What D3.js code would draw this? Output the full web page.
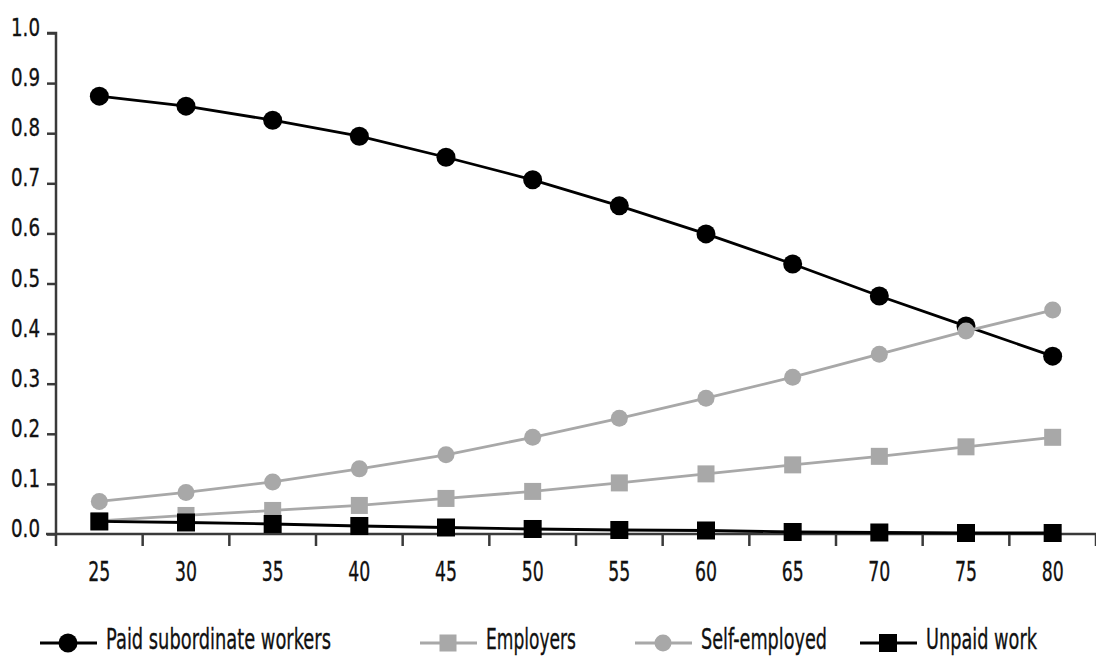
<!DOCTYPE html>
<html><head><meta charset="utf-8">
<script src="https://cdn.jsdelivr.net/npm/d3@7"></script>
<style>body{margin:0;background:#fff}svg{display:block}text{font-family:"DejaVu Sans",sans-serif;fill:#111;stroke:#111;stroke-width:0.35px}</style>
</head><body><svg id="c" width="1096" height="661"></svg>
<script>
const ages = [25,30,35,40,45,50,55,60,65,70,75,80];
const paid = [0.874,0.854,0.826,0.794,0.752,0.707,0.655,0.599,0.539,0.475,0.415,0.355];
const employers = [0.026,0.037,0.047,0.057,0.071,0.085,0.102,0.120,0.138,0.155,0.174,0.193];
const selfEmployed = [0.065,0.083,0.104,0.130,0.158,0.193,0.231,0.271,0.313,0.359,0.405,0.447];
const unpaid = [0.025,0.023,0.020,0.016,0.013,0.010,0.008,0.007,0.004,0.003,0.002,0.002];
const yTicks = [0,0.1,0.2,0.3,0.4,0.5,0.6,0.7,0.8,0.9,1.0];
const seriesNames = ["Paid subordinate workers","Employers","Self-employed","Unpaid work"];

const svg = d3.select("#c");
const x = d3.scaleBand().domain(ages).range([56,1096]);
const y = d3.scaleLinear().domain([0,1]).range([534,33]);
const axisColor = "#3a3a3a";
const black = "#000", gray = "#a8a8a8";

// y axis
const ya = svg.append("g").attr("transform","translate(56,0)")
  .call(d3.axisLeft(y).tickValues(yTicks).tickFormat(d3.format(".1f")).tickSize(9).tickPadding(7));
ya.attr("font-family",null);
ya.select(".domain").attr("stroke",axisColor).attr("stroke-width",2.5).attr("d","M-9,33H0V534");
ya.selectAll(".tick line").attr("stroke",axisColor).attr("stroke-width",2.5);
ya.selectAll(".tick text").attr("font-size",25).attr("fill","#111").attr("dy","0.1em")
  .attr("textLength",29).attr("lengthAdjust","spacingAndGlyphs");

// x axis
const xa = svg.append("g").attr("transform","translate(0,534)")
  .call(d3.axisBottom(x).tickSize(0).tickPadding(28));
xa.attr("font-family",null);
xa.select(".domain").attr("stroke",axisColor).attr("stroke-width",2.5).attr("d","M46,0H1096");
xa.selectAll(".tick text").attr("font-size",27).attr("fill","#111")
  .attr("textLength",22).attr("lengthAdjust","spacingAndGlyphs");
xa.selectAll(".bound").data(ages.concat([null])).enter().append("line")
  .attr("x1",(d,i)=>56+i*x.step()).attr("x2",(d,i)=>56+i*x.step())
  .attr("y1",0).attr("y2",12).attr("stroke",axisColor).attr("stroke-width",2.5);

const cx = d => x(d)+x.bandwidth()/2;
const series = [
  {name:seriesNames[0], vals:paid, color:black, shape:"circle", r:9.5},
  {name:seriesNames[1], vals:employers, color:gray, shape:"square", r:8.5},
  {name:seriesNames[2], vals:selfEmployed, color:gray, shape:"circle", r:8.5},
  {name:seriesNames[3], vals:unpaid, color:black, shape:"square", r:9}
];
const line = d3.line().x((d,i)=>cx(ages[i])).y(d=>y(d));
series.forEach(s=>{
  const g = svg.append("g");
  g.append("path").attr("d",line(s.vals)).attr("fill","none").attr("stroke",s.color).attr("stroke-width",2.8);
  if(s.shape==="circle"){
    g.selectAll("circle").data(s.vals).enter().append("circle")
      .attr("cx",(d,i)=>cx(ages[i])).attr("cy",d=>y(d)).attr("r",s.r).attr("fill",s.color);
  } else {
    g.selectAll("rect").data(s.vals).enter().append("rect")
      .attr("x",(d,i)=>cx(ages[i])-s.r).attr("y",d=>y(d)-s.r).attr("width",2*s.r).attr("height",2*s.r).attr("fill",s.color);
  }
});

// legend
const legX = [40,420,635,860];
const legW = [225,90,126,111];
const lg = svg.append("g").attr("transform","translate(0,643)");
series.forEach((s,i)=>{
  const g = lg.append("g").attr("transform",`translate(${legX[i]},0)`);
  g.append("line").attr("x1",0).attr("x2",57).attr("y1",0).attr("y2",0).attr("stroke",s.color).attr("stroke-width",2.8);
  if(s.shape==="circle") g.append("circle").attr("cx",28).attr("cy",0).attr("r",s.r).attr("fill",s.color);
  else g.append("rect").attr("x",28-s.r).attr("y",-s.r).attr("width",2*s.r).attr("height",2*s.r).attr("fill",s.color);
  const t = g.append("text").attr("x",0).attr("y",0).attr("font-size",28).text(s.name);
  const natural = t.node().getComputedTextLength();
  t.attr("transform",`translate(66,6) scale(${legW[i]/natural},1)`);
});
</script></body></html>
